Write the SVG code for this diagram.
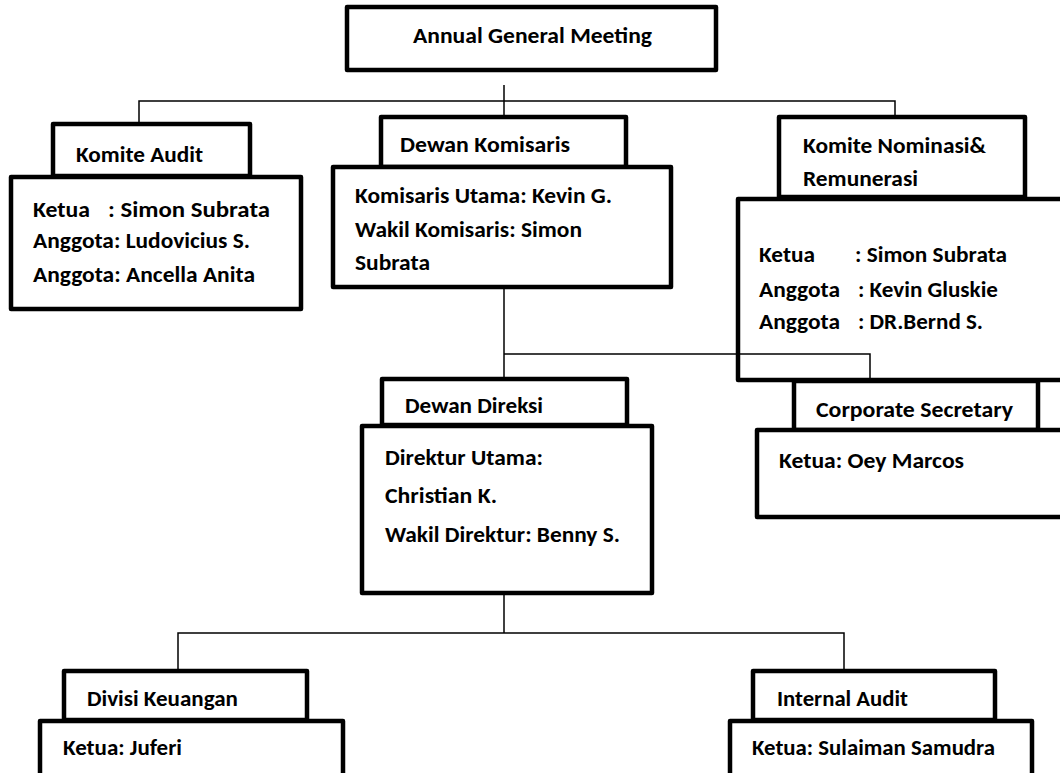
<svg xmlns="http://www.w3.org/2000/svg" width="1060" height="773" viewBox="0 0 1060 773">
  <style>
    .box { fill: #ffffff; stroke: #000000; stroke-width: 4.5; stroke-linejoin: round; }
    .conn { fill: none; stroke: #000000; stroke-width: 1.5; }
    text { font-family: Carlito, Lato, "Liberation Sans", sans-serif; font-weight: bold; font-size: 23px; fill: #000000; }
  </style>
  <rect width="1060" height="773" fill="#ffffff"/>

  <g id="agm">
    <rect class="box" x="347" y="7" width="369" height="63"/>
    <text x="413" y="43" textLength="239" lengthAdjust="spacingAndGlyphs">Annual General Meeting</text>
  </g>

  <g id="komite-audit">
    <rect class="box" x="53" y="124" width="197" height="52"/>
    <rect class="box" x="11" y="177" width="290" height="132"/>
    <text x="76" y="162" textLength="127" lengthAdjust="spacingAndGlyphs">Komite Audit</text>
    <text x="33" y="217" textLength="57" lengthAdjust="spacingAndGlyphs">Ketua</text>
    <text x="108" y="217" textLength="162" lengthAdjust="spacingAndGlyphs">: Simon Subrata</text>
    <text x="33" y="248" textLength="217" lengthAdjust="spacingAndGlyphs">Anggota: Ludovicius S.</text>
    <text x="33" y="282" textLength="222" lengthAdjust="spacingAndGlyphs">Anggota: Ancella Anita</text>
  </g>

  <g id="dewan-komisaris">
    <rect class="box" x="381" y="117" width="245" height="50"/>
    <rect class="box" x="333" y="167" width="338" height="120"/>
    <text x="400" y="152" textLength="170" lengthAdjust="spacingAndGlyphs">Dewan Komisaris</text>
    <text x="355" y="203" textLength="257" lengthAdjust="spacingAndGlyphs">Komisaris Utama: Kevin G.</text>
    <text x="355" y="237" textLength="227" lengthAdjust="spacingAndGlyphs">Wakil Komisaris: Simon</text>
    <text x="355" y="270" textLength="75" lengthAdjust="spacingAndGlyphs">Subrata</text>
  </g>

  <g id="komite-nominasi">
    <rect class="box" x="779" y="117" width="246" height="80"/>
    <rect class="box" x="738" y="199" width="340" height="181"/>
    <text x="803" y="153" textLength="183" lengthAdjust="spacingAndGlyphs">Komite Nominasi&amp;</text>
    <text x="803" y="186" textLength="115" lengthAdjust="spacingAndGlyphs">Remunerasi</text>
    <text x="759" y="262" textLength="56" lengthAdjust="spacingAndGlyphs">Ketua</text>
    <text x="855" y="262" textLength="152" lengthAdjust="spacingAndGlyphs">: Simon Subrata</text>
    <text x="759" y="297" textLength="81" lengthAdjust="spacingAndGlyphs">Anggota</text>
    <text x="858" y="297" textLength="140" lengthAdjust="spacingAndGlyphs">: Kevin Gluskie</text>
    <text x="759" y="329" textLength="81" lengthAdjust="spacingAndGlyphs">Anggota</text>
    <text x="858" y="329" textLength="125" lengthAdjust="spacingAndGlyphs">: DR.Bernd S.</text>
  </g>

  <g id="corporate-secretary">
    <rect class="box" x="794" y="381" width="244" height="49"/>
    <rect class="box" x="757" y="430" width="320" height="87"/>
    <text x="816" y="417" textLength="197" lengthAdjust="spacingAndGlyphs">Corporate Secretary</text>
    <text x="779" y="468" textLength="185" lengthAdjust="spacingAndGlyphs">Ketua: Oey Marcos</text>
  </g>

  <g id="dewan-direksi">
    <rect class="box" x="382" y="379" width="245" height="46"/>
    <rect class="box" x="362" y="426" width="290" height="167"/>
    <text x="405" y="413" textLength="138" lengthAdjust="spacingAndGlyphs">Dewan Direksi</text>
    <text x="385" y="465" textLength="158" lengthAdjust="spacingAndGlyphs">Direktur Utama:</text>
    <text x="385" y="503" textLength="112" lengthAdjust="spacingAndGlyphs">Christian K.</text>
    <text x="385" y="542" textLength="235" lengthAdjust="spacingAndGlyphs">Wakil Direktur: Benny S.</text>
  </g>

  <g id="divisi-keuangan">
    <rect class="box" x="64" y="671" width="243" height="49"/>
    <rect class="box" x="40" y="721" width="303" height="70"/>
    <text x="87" y="706" textLength="151" lengthAdjust="spacingAndGlyphs">Divisi Keuangan</text>
    <text x="63" y="755" textLength="119" lengthAdjust="spacingAndGlyphs">Ketua: Juferi</text>
  </g>

  <g id="internal-audit">
    <rect class="box" x="753" y="671" width="242" height="49"/>
    <rect class="box" x="730" y="721" width="302" height="70"/>
    <text x="777" y="706" textLength="131" lengthAdjust="spacingAndGlyphs">Internal Audit</text>
    <text x="752" y="755" textLength="243" lengthAdjust="spacingAndGlyphs">Ketua: Sulaiman Samudra</text>
  </g>

  <g id="connectors">
    <!-- AGM to the three top-level bodies -->
    <polyline class="conn" points="139,123 139,101 895,101 895,117"/>
    <line class="conn" x1="504" y1="85" x2="504" y2="117"/>
    <!-- Dewan Komisaris to Dewan Direksi and Corporate Secretary -->
    <line class="conn" x1="504" y1="288" x2="504" y2="379"/>
    <polyline class="conn" points="504,354 870,354 870,380"/>
    <!-- Dewan Direksi to divisions -->
    <line class="conn" x1="504" y1="593" x2="504" y2="633"/>
    <polyline class="conn" points="178,670 178,633 844,633 844,670"/>
  </g>
</svg>
